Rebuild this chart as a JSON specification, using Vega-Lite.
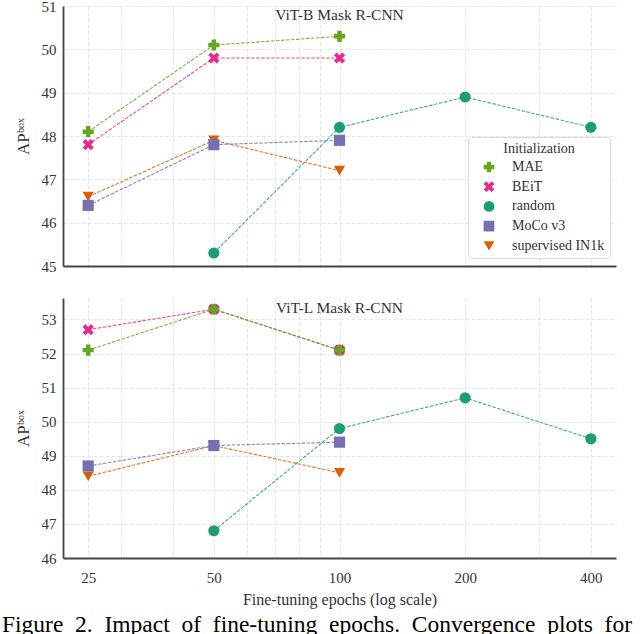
{
  "$schema": "https://vega.github.io/schema/vega-lite/v6.json",
  "background": "white",
  "padding": {"left": 2, "top": -1, "right": 0, "bottom": 0},
  "spacing": 24,
  "data": {
    "values": [
      {"panel": "B", "init": "supervised IN1k", "epochs": 25, "ap": 46.6},
      {"panel": "B", "init": "supervised IN1k", "epochs": 50, "ap": 47.9},
      {"panel": "B", "init": "supervised IN1k", "epochs": 100, "ap": 47.2},
      {"panel": "B", "init": "MoCo v3", "epochs": 25, "ap": 46.4},
      {"panel": "B", "init": "MoCo v3", "epochs": 50, "ap": 47.8},
      {"panel": "B", "init": "MoCo v3", "epochs": 100, "ap": 47.9},
      {"panel": "B", "init": "random", "epochs": 50, "ap": 45.3},
      {"panel": "B", "init": "random", "epochs": 100, "ap": 48.2},
      {"panel": "B", "init": "random", "epochs": 200, "ap": 48.9},
      {"panel": "B", "init": "random", "epochs": 400, "ap": 48.2},
      {"panel": "B", "init": "BEiT", "epochs": 25, "ap": 47.8},
      {"panel": "B", "init": "BEiT", "epochs": 50, "ap": 49.8},
      {"panel": "B", "init": "BEiT", "epochs": 100, "ap": 49.8},
      {"panel": "B", "init": "MAE", "epochs": 25, "ap": 48.1},
      {"panel": "B", "init": "MAE", "epochs": 50, "ap": 50.1},
      {"panel": "B", "init": "MAE", "epochs": 100, "ap": 50.3},
      {"panel": "L", "init": "supervised IN1k", "epochs": 25, "ap": 48.4},
      {"panel": "L", "init": "supervised IN1k", "epochs": 50, "ap": 49.3},
      {"panel": "L", "init": "supervised IN1k", "epochs": 100, "ap": 48.5},
      {"panel": "L", "init": "MoCo v3", "epochs": 25, "ap": 48.7},
      {"panel": "L", "init": "MoCo v3", "epochs": 50, "ap": 49.3},
      {"panel": "L", "init": "MoCo v3", "epochs": 100, "ap": 49.4},
      {"panel": "L", "init": "random", "epochs": 50, "ap": 46.8},
      {"panel": "L", "init": "random", "epochs": 100, "ap": 49.8},
      {"panel": "L", "init": "random", "epochs": 200, "ap": 50.7},
      {"panel": "L", "init": "random", "epochs": 400, "ap": 49.5},
      {"panel": "L", "init": "BEiT", "epochs": 25, "ap": 52.7},
      {"panel": "L", "init": "BEiT", "epochs": 50, "ap": 53.3},
      {"panel": "L", "init": "BEiT", "epochs": 100, "ap": 52.1},
      {"panel": "L", "init": "MAE", "epochs": 25, "ap": 52.1},
      {"panel": "L", "init": "MAE", "epochs": 50, "ap": 53.3},
      {"panel": "L", "init": "MAE", "epochs": 100, "ap": 52.1}
    ]
  },
  "vconcat": [
    {
      "width": 553,
      "height": 260,
      "title": {"text": "ViT-B Mask R-CNN", "offset": -24},
      "transform": [{"filter": "datum.panel === 'B'"}],
      "encoding": {
        "x": {
          "field": "epochs",
          "type": "quantitative",
          "scale": {"type": "log", "domain": [21.76, 459.5], "nice": false},
          "axis": {
            "values": [25, 30, 40, 50, 60, 70, 80, 90, 100, 200, 300, 400],
            "labels": false,
            "title": null
          }
        },
        "y": {
          "field": "ap",
          "type": "quantitative",
          "scale": {"domain": [45, 51], "nice": false, "zero": false},
          "axis": {"values": [45, 46, 47, 48, 49, 50, 51], "title": "APᵇᵒˣ"}
        },
        "color": {
          "field": "init",
          "type": "nominal",
          "scale": {
            "domain": ["MAE", "BEiT", "random", "MoCo v3", "supervised IN1k"],
            "range": ["#66a61e", "#e7298a", "#1b9e77", "#7570b3", "#d95f02"]
          },
          "legend": {
            "orient": "none",
            "legendX": 405,
            "legendY": 131,
            "title": "Initialization"
          }
        }
      },
      "layer": [
        {
          "mark": {"type": "line", "strokeWidth": 1.1, "strokeDash": [3.5, 1.5], "opacity": 0.85}
        },
        {
          "mark": {"type": "point", "filled": true, "opacity": 1, "size": 125},
          "encoding": {
            "shape": {
              "field": "init",
              "type": "nominal",
              "scale": {
                "domain": ["MAE", "BEiT", "random", "MoCo v3", "supervised IN1k"],
                "range": ["cross", "M-0.5,-1L0,-0.5L0.5,-1L1,-0.5L0.5,0L1,0.5L0.5,1L0,0.5L-0.5,1L-1,0.5L-0.5,0L-1,-0.5Z", "circle", "square", "triangle-down"]
              },
              "legend": {
                "orient": "none",
                "legendX": 405,
                "legendY": 131,
                "title": "Initialization"
              }
            }
          }
        }
      ]
    },
    {
      "width": 553,
      "height": 260,
      "title": {"text": "ViT-L Mask R-CNN", "offset": -18},
      "transform": [{"filter": "datum.panel === 'L'"}],
      "encoding": {
        "x": {
          "field": "epochs",
          "type": "quantitative",
          "scale": {"type": "log", "domain": [21.76, 459.5], "nice": false},
          "axis": {
            "values": [25, 30, 40, 50, 60, 70, 80, 90, 100, 200, 300, 400],
            "labelExpr": "(datum.value == 25 || datum.value == 50 || datum.value == 100 || datum.value == 200 || datum.value == 400) ? format(datum.value, 'd') : ''",
            "labelPadding": 12,
            "titlePadding": 6,
            "title": "Fine-tuning epochs (log scale)"
          }
        },
        "y": {
          "field": "ap",
          "type": "quantitative",
          "scale": {"domain": [46, 53.63], "nice": false, "zero": false},
          "axis": {"values": [46, 47, 48, 49, 50, 51, 52, 53], "title": "APᵇᵒˣ"}
        },
        "color": {
          "field": "init",
          "type": "nominal",
          "scale": {
            "domain": ["MAE", "BEiT", "random", "MoCo v3", "supervised IN1k"],
            "range": ["#66a61e", "#e7298a", "#1b9e77", "#7570b3", "#d95f02"]
          },
          "legend": null
        }
      },
      "layer": [
        {
          "mark": {"type": "line", "strokeWidth": 1.1, "strokeDash": [3.5, 1.5], "opacity": 0.85}
        },
        {
          "mark": {"type": "point", "filled": true, "opacity": 1, "size": 125},
          "encoding": {
            "shape": {
              "field": "init",
              "type": "nominal",
              "scale": {
                "domain": ["MAE", "BEiT", "random", "MoCo v3", "supervised IN1k"],
                "range": ["cross", "M-0.5,-1L0,-0.5L0.5,-1L1,-0.5L0.5,0L1,0.5L0.5,1L0,0.5L-0.5,1L-1,0.5L-0.5,0L-1,-0.5Z", "circle", "square", "triangle-down"]
              },
              "legend": null
            }
          }
        }
      ]
    }
  ],
  "resolve": {"scale": {"color": "independent", "shape": "independent"}},
  "title": {
    "text": "Figure\u00a0 2.\u00a0 Impact\u00a0 of\u00a0 fine-tuning\u00a0 epochs.\u00a0 Convergence\u00a0 plots\u00a0 for",
    "orient": "bottom",
    "anchor": "start",
    "frame": "bounds",
    "baseline": "alphabetic",
    "offset": 25,
    "dx": -12,
    "fontSize": 23.5,
    "fontWeight": "normal",
    "color": "black"
  },
  "config": {
    "font": "Liberation Serif",
    "view": {"stroke": null},
    "axis": {
      "labelFont": "Liberation Serif",
      "labelFontSize": 15,
      "labelColor": "#333",
      "labelPadding": 7,
      "titleFont": "Liberation Serif",
      "titleFontSize": 16,
      "titleFontWeight": "normal",
      "titleColor": "#333",
      "titlePadding": 7,
      "ticks": false,
      "grid": true,
      "gridColor": "#e2e2e2",
      "gridDash": [4, 2],
      "gridWidth": 0.9,
      "domainColor": "#444",
      "domainWidth": 1.8
    },
    "axisY": {
      "minExtent": 24,
      "titleFontSize": 17
    },
    "legend": {
      "labelFont": "Liberation Serif",
      "labelFontSize": 14,
      "labelColor": "#333",
      "labelOffset": 16,
      "titleFont": "Liberation Serif",
      "titleFontSize": 14,
      "titleFontWeight": "normal",
      "titleColor": "#333",
      "titleAnchor": "middle",
      "titlePadding": 4,
      "symbolSize": 115,
      "symbolOffset": 9,
      "symbolStrokeWidth": 0,
      "symbolOpacity": 1,
      "rowPadding": 5.7,
      "padding": 5,
      "strokeColor": "#dcdcdc",
      "fillColor": "white",
      "cornerRadius": 3
    },
    "title": {
      "font": "Liberation Serif",
      "fontSize": 15.5,
      "fontWeight": "normal",
      "color": "#333",
      "anchor": "middle"
    }
  }
}
